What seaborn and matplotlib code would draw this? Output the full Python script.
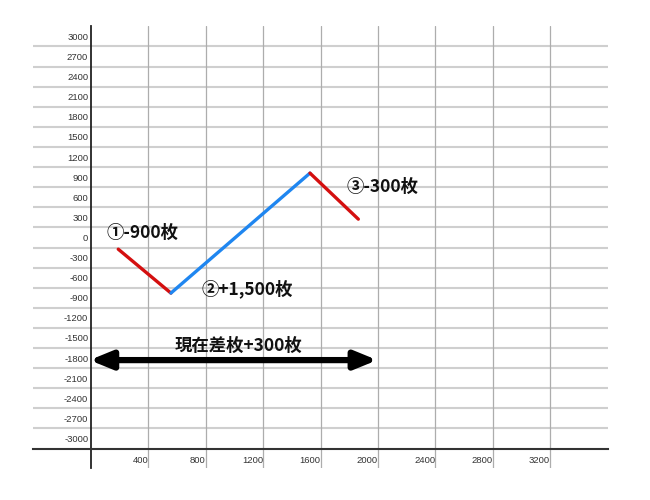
import matplotlib
matplotlib.use("Agg")
import matplotlib.pyplot as plt
import seaborn as sns
import pandas as pd

# ---- data ----
path_x = [190, 557, 1526, 1863]
path_y = [-175, -830, 960, 273]
segment_names = ["①", "②", "③"]
segment_colors = ["#d40f0f", "#1f86f0", "#d40f0f"]

y_tick_values = [3000, 2700, 2400, 2100, 1800, 1500, 1200, 900, 600, 300, 0,
                 -300, -600, -900, -1200, -1500, -1800, -2100, -2400, -2700, -3000]
x_tick_values = [400, 800, 1200, 1600, 2000, 2400, 2800, 3200]
h_grid_values = [2850, 2550, 2250, 1950, 1650, 1350, 1050, 750, 450, 150, -150,
                 -450, -750, -1050, -1350, -1650, -1950, -2250, -2550, -2850]
x_axis_level = -3150

labels = ["①-900枚", "②+1,500枚", "③-300枚"]
label_x = [110, 770, 1780]
label_y = [65, -770, 760]

arrow_from = -10
arrow_to = 1995
arrow_level = -1830
arrow_text = "現在差枚+300枚"
arrow_text_x = 1025
arrow_text_y = -1620

# ---- frame ----
rows = []
for i in range(3):
    rows.append({"seg": segment_names[i], "x": path_x[i], "y": path_y[i]})
    rows.append({"seg": segment_names[i], "x": path_x[i + 1], "y": path_y[i + 1]})
df = pd.DataFrame(rows)

sns.set_theme(style="white")
plt.rcParams["font.family"] = ["Noto Sans CJK JP", "DejaVu Sans"]

fig = plt.figure(figsize=(6.5, 5), dpi=100)
ax = fig.add_axes([33.3 / 650, 1 - 468 / 500, (607.6 - 33.3) / 650, (468 - 26) / 500])
ax.set_xlim(-402, 3600)
ax.set_ylim(-3440, 3155)

# grid
for v in h_grid_values:
    ax.axhline(v, color="#cfcfcf", lw=1.5, zorder=0)
for v in x_tick_values:
    ax.axvline(v, color="#adadad", lw=0.9, zorder=0)

sns.lineplot(data=df, x="x", y="y", hue="seg",
             palette=dict(zip(segment_names, segment_colors)),
             lw=2.4, legend=False, ax=ax, sort=False, estimator=None, zorder=3)

# spines
for s in ["top", "right"]:
    ax.spines[s].set_visible(False)
ax.spines["left"].set_position(("data", 0))
ax.spines["bottom"].set_position(("data", x_axis_level))
ax.spines["left"].set_color("#222222")
ax.spines["bottom"].set_color("#333333")
ax.spines["left"].set_linewidth(1.3)
ax.spines["bottom"].set_linewidth(1.5)

tick_font = {"family": "Liberation Sans", "size": 6.8, "color": "#333333"}
ax.set_yticks(y_tick_values)
ax.set_yticklabels([str(v) for v in y_tick_values], fontdict=tick_font)
ax.set_xticks(x_tick_values)
ax.set_xticklabels([str(v) for v in x_tick_values], fontdict=tick_font, ha="right")
ax.tick_params(axis="y", length=0, pad=2)
ax.tick_params(axis="x", length=0, pad=5)
ax.set_xlabel("")
ax.set_ylabel("")

# annotations
for t, tx, ty in zip(labels, label_x, label_y):
    ax.text(tx, ty, t, fontsize=12.5, fontweight="bold", color="#111111",
            ha="left", va="center", family=["Noto Sans CJK JP", "DejaVu Sans"])

ax.annotate("", xy=(arrow_from, arrow_level), xytext=(arrow_to, arrow_level),
            arrowprops=dict(arrowstyle="<|-|>,head_length=1.1,head_width=0.45",
                            lw=4.5, color="black", shrinkA=0, shrinkB=0),
            zorder=4)
ax.text(arrow_text_x, arrow_text_y, arrow_text, fontsize=12.5, fontweight="bold",
        color="#111111", ha="center", va="center",
        family=["Noto Sans CJK JP", "DejaVu Sans"])

fig.savefig("out.png", dpi=100)
